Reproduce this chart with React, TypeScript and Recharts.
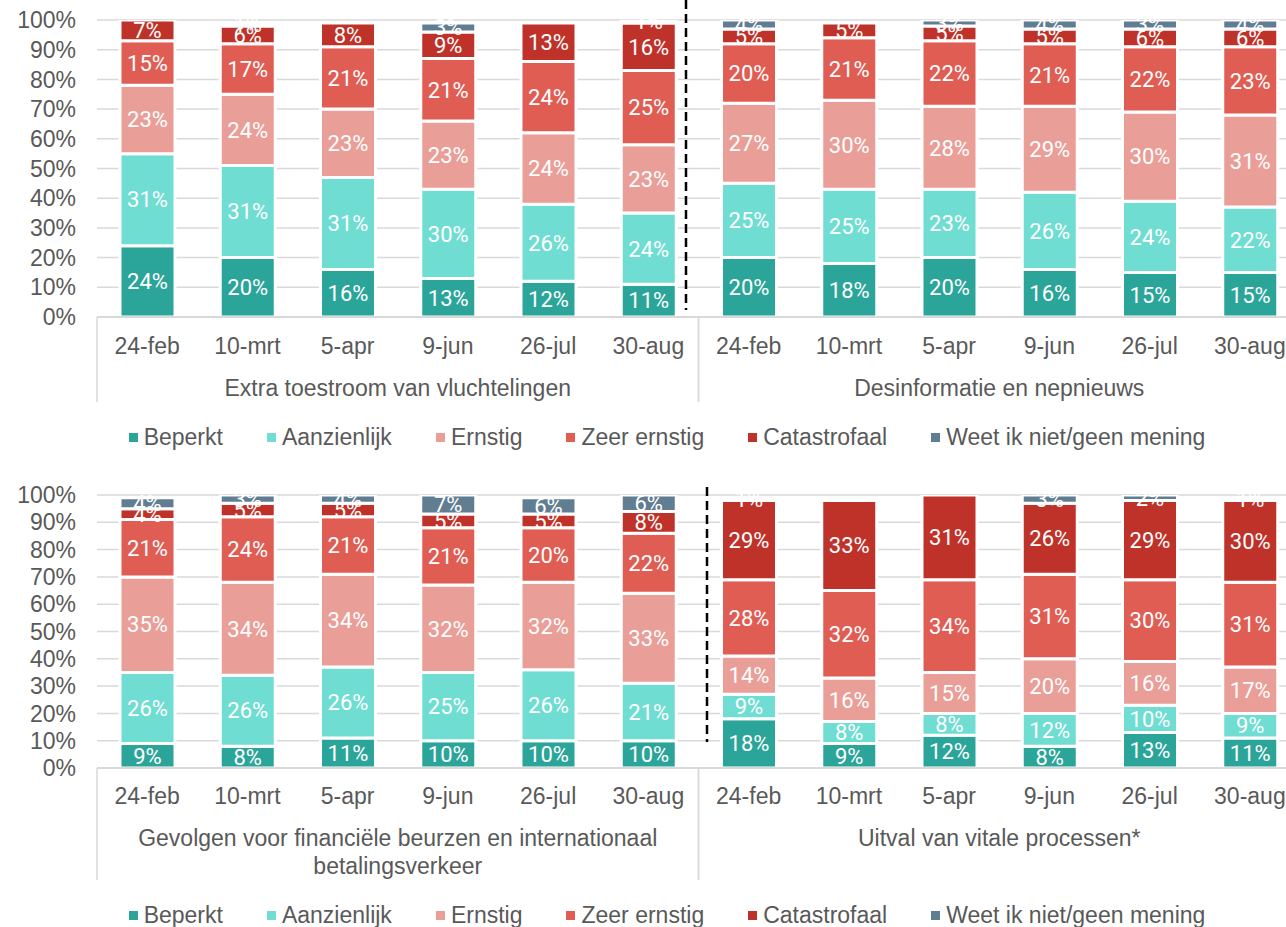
import { Bar, BarChart, CartesianGrid, LabelList, Legend, XAxis, YAxis } from 'recharts';

// x categories (two groups of six survey dates per panel)
const dates = ['24-feb', '10-mrt', '5-apr', '9-jun', '26-jul', '30-aug'];
const yTicks = [0, 10, 20, 30, 40, 50, 60, 70, 80, 90, 100];

const seriesKeys = ['beperkt', 'aanzienlijk', 'ernstig', 'zeer', 'catastrofaal', 'weet'];
const seriesNames = ['Beperkt', 'Aanzienlijk', 'Ernstig', 'Zeer ernstig', 'Catastrofaal', 'Weet ik niet/geen mening'];
const seriesColors = ['#2ba599', '#70ddd3', '#ea9e98', '#e05d54', '#bf3229', '#617d92'];

// top panel
const topGroups = ['Extra toestroom van vluchtelingen', 'Desinformatie en nepnieuws'];
const topBeperkt = [24, 20, 16, 13, 12, 11, 20, 18, 20, 16, 15, 15];
const topAanzienlijk = [31, 31, 31, 30, 26, 24, 25, 25, 23, 26, 24, 22];
const topErnstig = [23, 24, 23, 23, 24, 23, 27, 30, 28, 29, 30, 31];
const topZeer = [15, 17, 21, 21, 24, 25, 20, 21, 22, 21, 22, 23];
const topCatastrofaal = [7, 6, 8, 9, 13, 16, 5, 5, 5, 5, 6, 6];
const topWeet = [0, 1, 0, 3, 0, 1, 4, 0, 3, 4, 3, 4];

// bottom panel
const bottomGroups = [
  'Gevolgen voor financiële beurzen en internationaal betalingsverkeer',
  'Uitval van vitale processen*',
];
const bottomBeperkt = [9, 8, 11, 10, 10, 10, 18, 9, 12, 8, 13, 11];
const bottomAanzienlijk = [26, 26, 26, 25, 26, 21, 9, 8, 8, 12, 10, 9];
const bottomErnstig = [35, 34, 34, 32, 32, 33, 14, 16, 15, 20, 16, 17];
const bottomZeer = [21, 24, 21, 21, 20, 22, 28, 32, 34, 31, 30, 31];
const bottomCatastrofaal = [4, 5, 5, 5, 5, 8, 29, 33, 31, 26, 29, 30];
const bottomWeet = [4, 3, 4, 7, 6, 6, 1, 0, 0, 3, 2, 1];

function buildRows(groups: string[], cols: number[][]) {
  return cols[0].map((_, i) => {
    const row: Record<string, string | number> = { date: dates[i % 6], group: groups[Math.floor(i / 6)] };
    seriesKeys.forEach((k, s) => {
      row[k] = cols[s][i];
    });
    return row;
  });
}

const topRows = buildRows(topGroups, [topBeperkt, topAanzienlijk, topErnstig, topZeer, topCatastrofaal, topWeet]);
const bottomRows = buildRows(bottomGroups, [
  bottomBeperkt,
  bottomAanzienlijk,
  bottomErnstig,
  bottomZeer,
  bottomCatastrofaal,
  bottomWeet,
]);

const AXIS_FONT = '"Liberation Sans", Arial, sans-serif';
const TEXT = '#595959';
const GRID = '#d9d9d9';
const CHART_W = 1310;
const PLOT_LEFT = 97;
const PLOT_W = 1203;

function wrapWords(text: string, max: number) {
  const out: string[] = [];
  let cur = '';
  text.split(' ').forEach((w) => {
    if (cur && (cur + ' ' + w).length > max) {
      out.push(cur);
      cur = w;
    } else {
      cur = cur ? cur + ' ' + w : w;
    }
  });
  if (cur) out.push(cur);
  return out;
}

function LegendRow({ height }: { height: number }) {
  return (
    <div
      style={{
        width: 1334,
        height,
        display: 'flex',
        justifyContent: 'center',
        alignItems: 'center',
        fontFamily: AXIS_FONT,
        fontSize: 23,
        color: TEXT,
        whiteSpace: 'nowrap',
      }}
    >
      {seriesNames.map((n, i) => (
        <span
          key={n}
          style={{ display: 'flex', alignItems: 'center', marginRight: i < seriesNames.length - 1 ? 44 : 0 }}
        >
          <span style={{ width: 9, height: 9, background: seriesColors[i], marginRight: 6, display: 'inline-block' }} />
          {n}
        </span>
      ))}
    </div>
  );
}

type PanelProps = {
  rows: Array<Record<string, string | number>>;
  height: number;
  marginTop: number;
  dateDy: number;
  groupAxisHeight: number;
  groupDy: number;
  sepBottom: number;
  legendHeight: number;
};

function StackedPanel({ rows, height, marginTop, dateDy, groupAxisHeight, groupDy, sepBottom, legendHeight }: PanelProps) {
  const half = PLOT_W / 4;
  return (
    <BarChart width={CHART_W} height={height} data={rows} margin={{ top: marginTop, right: 10, left: 0, bottom: 0 }}>
      <CartesianGrid vertical={false} stroke={GRID} strokeWidth={1.5} />
      <XAxis
        dataKey="date"
        height={45}
        axisLine={{ stroke: GRID, strokeWidth: 2 }}
        tickLine={false}
        tickSize={0}
        tickMargin={0}
        interval={0}
        tick={(p: any) => (
          <text
            x={p.x}
            y={p.y + dateDy}
            textAnchor="middle"
            dominantBaseline="central"
            fontFamily={AXIS_FONT}
            fontSize={23}
            fill={TEXT}
          >
            {p.payload.value}
          </text>
        )}
      />
      <XAxis
        xAxisId="grp"
        dataKey="group"
        allowDuplicatedCategory={false}
        height={groupAxisHeight}
        axisLine={false}
        tickLine={false}
        tickSize={0}
        tickMargin={0}
        interval={0}
        tick={(p: any) => (
          <g>
            <line x1={p.x - half} x2={p.x - half} y1={p.y - 45} y2={p.y + sepBottom} stroke={GRID} strokeWidth={1.5} />
            <line x1={p.x + half} x2={p.x + half} y1={p.y - 45} y2={p.y + sepBottom} stroke={GRID} strokeWidth={1.5} />
            {wrapWords(String(p.payload.value), 52).map((line, i) => (
              <text
                key={i}
                x={p.x}
                y={p.y + groupDy + i * 28}
                textAnchor="middle"
                dominantBaseline="central"
                fontFamily={AXIS_FONT}
                fontSize={23}
                fill={TEXT}
              >
                {line}
              </text>
            ))}
          </g>
        )}
      />
      <YAxis
        width={PLOT_LEFT}
        domain={[0, 100]}
        ticks={yTicks}
        interval={0}
        allowDataOverflow
        axisLine={false}
        tickLine={false}
        tickSize={0}
        tickMargin={21}
        tickFormatter={(v: number) => `${v}%`}
        tick={{ fontFamily: AXIS_FONT, fontSize: 23, fill: TEXT }}
      />
      <Legend verticalAlign="bottom" wrapperStyle={{ left: 0, width: 1334 }} content={() => <LegendRow height={legendHeight} />} />
      {seriesKeys.map((k, i) => (
        <Bar
          key={k}
          dataKey={k}
          name={seriesNames[i]}
          stackId="a"
          fill={seriesColors[i]}
          stroke="#fff"
          strokeWidth={3}
          barSize={55}
          isAnimationActive={false}
        >
          <LabelList
            dataKey={k}
            position="center"
            fill="#fff"
            fontFamily="Roboto, sans-serif"
            fontSize={22}
            formatter={(v: any) => (v ? `${v}%` : '')}
          />
        </Bar>
      ))}
    </BarChart>
  );
}

export default function App() {
  return (
    <div style={{ position: 'absolute', left: 0, top: 0, width: 1286, height: 927, overflow: 'hidden', background: '#fff' }}>
      <div style={{ position: 'absolute', left: 0, top: 0 }}>
        <StackedPanel
          rows={topRows}
          height={462}
          marginTop={20}
          dateDy={29}
          groupAxisHeight={50}
          groupDy={26}
          sepBottom={40}
          legendHeight={50}
        />
      </div>
      <div style={{ position: 'absolute', left: 0, top: 470 }}>
        <StackedPanel
          rows={bottomRows}
          height={477}
          marginTop={25}
          dateDy={28}
          groupAxisHeight={70}
          groupDy={25}
          sepBottom={67}
          legendHeight={64}
        />
      </div>
      {/* dashed separators drawn in the source slide */}
      <svg width={1286} height={927} style={{ position: 'absolute', left: 0, top: 0, pointerEvents: 'none' }}>
        <line x1={686} x2={686} y1={0} y2={310} stroke="#000" strokeWidth={2.5} strokeDasharray="9 5" />
        <line x1={707} x2={707} y1={487} y2={742} stroke="#000" strokeWidth={2.5} strokeDasharray="9 5" />
      </svg>
    </div>
  );
}
